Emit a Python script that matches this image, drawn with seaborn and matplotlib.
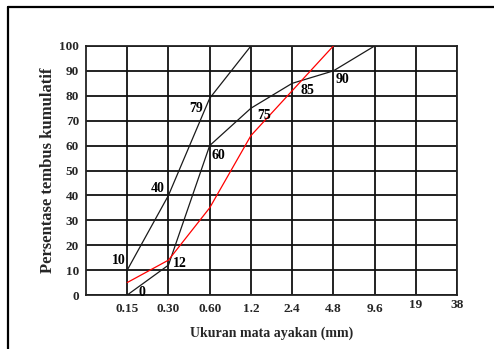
import matplotlib
matplotlib.use("Agg")
import matplotlib.pyplot as plt
import seaborn as sns
import pandas as pd
from matplotlib.lines import Line2D
from matplotlib.transforms import ScaledTranslation

# Sieve sizes (mm) shown as equally spaced categories
sieve_labels = ["0.15", "0.30", "0.60", "1.2", "2.4", "4.8", "9.6", "19", "38"]

# Upper grading limit
upper_sieves = ["0.15", "0.30", "0.60", "1.2"]
upper_pass = [10, 40, 79, 100]

# Lower grading limit
lower_sieves = ["0.15", "0.30", "0.60", "1.2", "2.4", "4.8", "9.6"]
lower_pass = [0, 12, 60, 75, 85, 90, 100]

# Tested aggregate
sample_sieves = ["0.15", "0.30", "0.60", "1.2", "2.4", "4.8"]
sample_pass = [5, 14, 35, 64, 82, 100]

# Value labels printed beside the limit curves
upper_labels = [10, 40, 79]
lower_labels = [0, 12, 60, 75, 85, 90]

yticks = list(range(0, 101, 10))

pos = {s: i for i, s in enumerate(sieve_labels)}

def frame(sieves, values, name):
    return pd.DataFrame({"x": [pos[s] for s in sieves], "y": values, "curve": name})

df = pd.concat([
    frame(upper_sieves, upper_pass, "upper"),
    frame(lower_sieves, lower_pass, "lower"),
    frame(sample_sieves, sample_pass, "sample"),
])

sns.set_theme(style="white")
plt.rcParams["font.family"] = ["Liberation Serif", "DejaVu Serif"]
plt.rcParams["font.weight"] = "bold"

W, H = 494, 349
fig = plt.figure(figsize=(W / 100, H / 100), dpi=100)
ax = fig.add_axes([86 / W, 1 - 295 / H, (457 - 86) / W, (295 - 46) / H])
ax.set_facecolor("white")

# Outer frame of the page: top and left edges
fig.add_artist(Line2D([8 / W, 1.0], [1 - 7 / H, 1 - 7 / H], transform=fig.transFigure,
                      color="black", linewidth=1.6))
fig.add_artist(Line2D([8 / W, 8 / W], [0.0, 1 - 7 / H], transform=fig.transFigure,
                      color="black", linewidth=1.6))

sns.lineplot(data=df, x="x", y="y", hue="curve",
             palette={"upper": "#1a1a1a", "lower": "#1a1a1a", "sample": "#ff0000"},
             linewidth=0.9, legend=False, ax=ax, estimator=None, sort=False, zorder=5)

ax.set_xlim(-1, len(sieve_labels) - 1)
ax.set_ylim(0, 100)
ax.set_xticks(range(len(sieve_labels)))
ax.set_xticklabels(sieve_labels)
ax.set_yticks(yticks)
ax.set_yticklabels([str(v) for v in yticks])
ax.tick_params(axis="both", length=0, labelsize=9.5)
ax.tick_params(axis="y", pad=5)
ax.tick_params(axis="x", pad=6)
for lab in ax.get_xticklabels() + ax.get_yticklabels():
    lab.set_fontweight("bold")
# the two coarsest sieve labels sit a little higher
for lab in ax.get_xticklabels()[-2:]:
    lab.set_transform(lab.get_transform() + ScaledTranslation(0, 4 / 100, fig.dpi_scale_trans))

ax.grid(True, color="#111111", linewidth=1.3)
ax.set_axisbelow(True)
for sp in ax.spines.values():
    sp.set_color("#222222")
    sp.set_linewidth(1.3)

ax.set_xlabel("Ukuran mata ayakan (mm)", fontsize=10, fontweight="bold", labelpad=8)
ax.set_ylabel("Persentase tembus kumulatif", fontsize=12, fontweight="bold", labelpad=2)

# Value annotations (offsets in pixels)
txt = dict(fontsize=10, fontweight="bold", color="black", zorder=6,
           textcoords="offset pixels", va="center")
upper_offsets = [(-2, 10), (-4, 7), (-7, -10)]
for s, v, off in zip(upper_sieves, upper_labels, upper_offsets):
    ax.annotate(str(v), (pos[s], v), xytext=off, ha="right", **txt)
lower_offsets = [(11, 3), (5, 2), (2, -10), (6, -7), (8, -7), (2, -9)]
for s, v, off in zip(lower_sieves, lower_labels, lower_offsets):
    ax.annotate(str(v), (pos[s], v), xytext=off, ha="left", **txt)

fig.savefig("out.png", dpi=100, facecolor="white")
